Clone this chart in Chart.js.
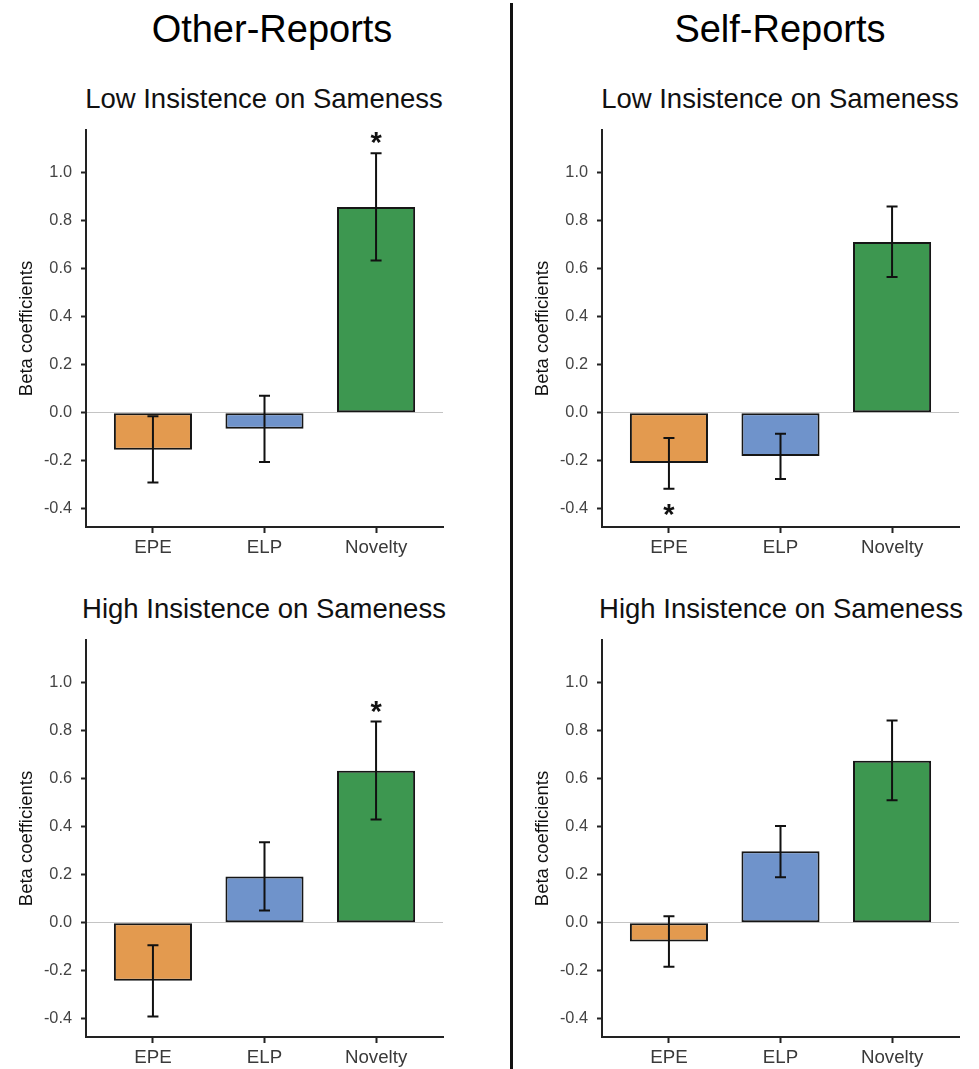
<!DOCTYPE html>
<html>
<head>
<meta charset="utf-8">
<title>Beta coefficients by insistence on sameness</title>
<script src="https://cdn.jsdelivr.net/npm/chart.js@4.4.1/dist/chart.umd.min.js"></script>
<style>
  body { margin: 0; background: #fff; font-family: 'Liberation Sans', Arial, sans-serif; }
  #page { position: relative; width: 979px; height: 1069px; overflow: hidden; }
  .main { position: absolute; top: 10px; width: 400px; font-size: 38px; line-height: 38px; text-align: center; color: #000; }
  .sub { position: absolute; width: 420px; font-size: 27.5px; line-height: 27.5px; text-align: center; color: #111; }
  .divider { position: absolute; left: 509.5px; top: 3px; width: 3px; height: 1066px; background: #111; }
  .panel { position: absolute; }
</style>
</head>
<body>
<div id="page">
  <div class="main" style="left:72px">Other-Reports</div>
  <div class="main" style="left:580px">Self-Reports</div>
  <div class="divider"></div>

  <div class="sub" style="left:54px;top:85px">Low Insistence on Sameness</div>
  <div class="sub" style="left:570px;top:85px">Low Insistence on Sameness</div>
  <div class="sub" style="left:54px;top:595px">High Insistence on Sameness</div>
  <div class="sub" style="left:571px;top:595px">High Insistence on Sameness</div>

  <canvas id="otherLow" class="panel" width="460" height="460" style="left:0px;top:120px"></canvas>
  <canvas id="selfLow" class="panel" width="460" height="460" style="left:516px;top:120px"></canvas>
  <canvas id="otherHigh" class="panel" width="460" height="460" style="left:0px;top:630px"></canvas>
  <canvas id="selfHigh" class="panel" width="460" height="460" style="left:516px;top:630px"></canvas>
</div>

<script>
'use strict';

// categories + colours
const categories = ['EPE', 'ELP', 'Novelty'];
const barColors = ['#e39a4f', '#6f93cb', '#3d9750'];
const yTicks = [-0.4, -0.2, 0.0, 0.2, 0.4, 0.6, 0.8, 1.0];

// Other-Reports, low insistence on sameness
const otherLowBeta  = [-0.154, -0.067, 0.855];
const otherLowLower = [-0.290, -0.205, 0.633];
const otherLowUpper = [-0.015,  0.071, 1.078];
const otherLowStar  = ['', '', '*'];

// Self-Reports, low insistence on sameness
const selfLowBeta  = [-0.209, -0.180, 0.709];
const selfLowLower = [-0.316, -0.276, 0.564];
const selfLowUpper = [-0.105, -0.087, 0.857];
const selfLowStar  = ['*', '', ''];

// Other-Reports, high insistence on sameness
const otherHighBeta  = [-0.241, 0.192, 0.632];
const otherHighLower = [-0.390, 0.051, 0.429];
const otherHighUpper = [-0.094, 0.334, 0.836];
const otherHighStar  = ['', '', '*'];

// Self-Reports, high insistence on sameness
const selfHighBeta  = [-0.078, 0.297, 0.673];
const selfHighLower = [-0.183, 0.189, 0.509];
const selfHighUpper = [ 0.027, 0.402, 0.840];
const selfHighStar  = ['', '', ''];

const fontFamily = "'Liberation Sans', Arial, sans-serif";

// error bars + significance stars, drawn on top of the bars
function makeErrorBars(beta, lower, upper, stars) {
  return {
    id: 'errorBars',
    afterDatasetsDraw(chart) {
      let ctx = chart.ctx;
      let xs = chart.scales.x;
      let ys = chart.scales.y;
      ctx.save();
      ctx.strokeStyle = '#111';
      ctx.lineWidth = 2;
      for (let i = 0; i < beta.length; i++) {
        let x = xs.getPixelForValue(i);
        let yLo = ys.getPixelForValue(lower[i]);
        let yHi = ys.getPixelForValue(upper[i]);
        ctx.beginPath();
        ctx.moveTo(x, yLo); ctx.lineTo(x, yHi);
        ctx.moveTo(x - 5.5, yLo); ctx.lineTo(x + 5.5, yLo);
        ctx.moveTo(x - 5.5, yHi); ctx.lineTo(x + 5.5, yHi);
        ctx.stroke();
        if (stars[i]) {
          ctx.fillStyle = '#111';
          ctx.font = 'bold 29px ' + fontFamily;
          ctx.textAlign = 'center';
          ctx.textBaseline = 'alphabetic';
          // star sits above a positive bar, below a negative one
          ctx.fillText(stars[i], x, beta[i] >= 0 ? yHi - 1 : yLo + 35);
        }
      }
      ctx.restore();
    }
  };
}

function makePanel(id, beta, lower, upper, stars) {
  return new Chart(document.getElementById(id), {
    type: 'bar',
    data: {
      datasets: [{
        data: beta.map((v, i) => ({ x: i, y: v })),
        backgroundColor: barColors,
        borderColor: '#161616',
        borderWidth: 2,
        borderSkipped: false,
        barPercentage: 0.7,
        categoryPercentage: 1.0
      }]
    },
    options: {
      responsive: false,
      animation: false,
      layout: { padding: { top: 10, right: 17, left: 0, bottom: 0 } },
      plugins: {
        legend: { display: false },
        tooltip: { enabled: false }
      },
      scales: {
        x: {
          type: 'linear',
          min: -0.6,
          max: 2.6,
          offset: false,
          afterBuildTicks: s => { s.ticks = categories.map((c, i) => ({ value: i })); },
          afterFit: s => { s.height = 53; s.paddingLeft = 0; s.paddingRight = 0; },
          grid: { drawOnChartArea: false, offset: false, tickLength: 6, tickColor: '#222', tickWidth: 2 },
          border: { color: '#222', width: 2 },
          ticks: {
            color: '#3a3a3a',
            padding: 4,
            font: { family: fontFamily, size: 18.7 },
            callback: v => categories[v]
          }
        },
        y: {
          min: -0.475,
          max: 1.175,
          afterBuildTicks: s => { s.ticks = yTicks.map(v => ({ value: v })); },
          afterFit: s => { s.width = 86; s.paddingTop = 0; s.paddingBottom = 0; },
          grid: {
            color: c => (c.tick && c.tick.value === 0 ? '#c4c4c4' : 'rgba(0,0,0,0)'),
            lineWidth: 1,
            tickLength: 5,
            tickColor: '#222',
            tickWidth: 2
          },
          border: { color: '#222', width: 2 },
          ticks: {
            color: '#444',
            padding: 9,
            font: { family: fontFamily, size: 16.3 },
            callback: v => v.toFixed(1)
          },
          title: {
            display: true,
            text: 'Beta coefficients',
            color: '#111',
            padding: { top: 16, bottom: 0 },
            font: { family: fontFamily, size: 18.5 }
          }
        }
      }
    },
    plugins: [makeErrorBars(beta, lower, upper, stars)]
  });
}

makePanel('otherLow', otherLowBeta, otherLowLower, otherLowUpper, otherLowStar);
makePanel('selfLow', selfLowBeta, selfLowLower, selfLowUpper, selfLowStar);
makePanel('otherHigh', otherHighBeta, otherHighLower, otherHighUpper, otherHighStar);
makePanel('selfHigh', selfHighBeta, selfHighLower, selfHighUpper, selfHighStar);
</script>
</body>
</html>
